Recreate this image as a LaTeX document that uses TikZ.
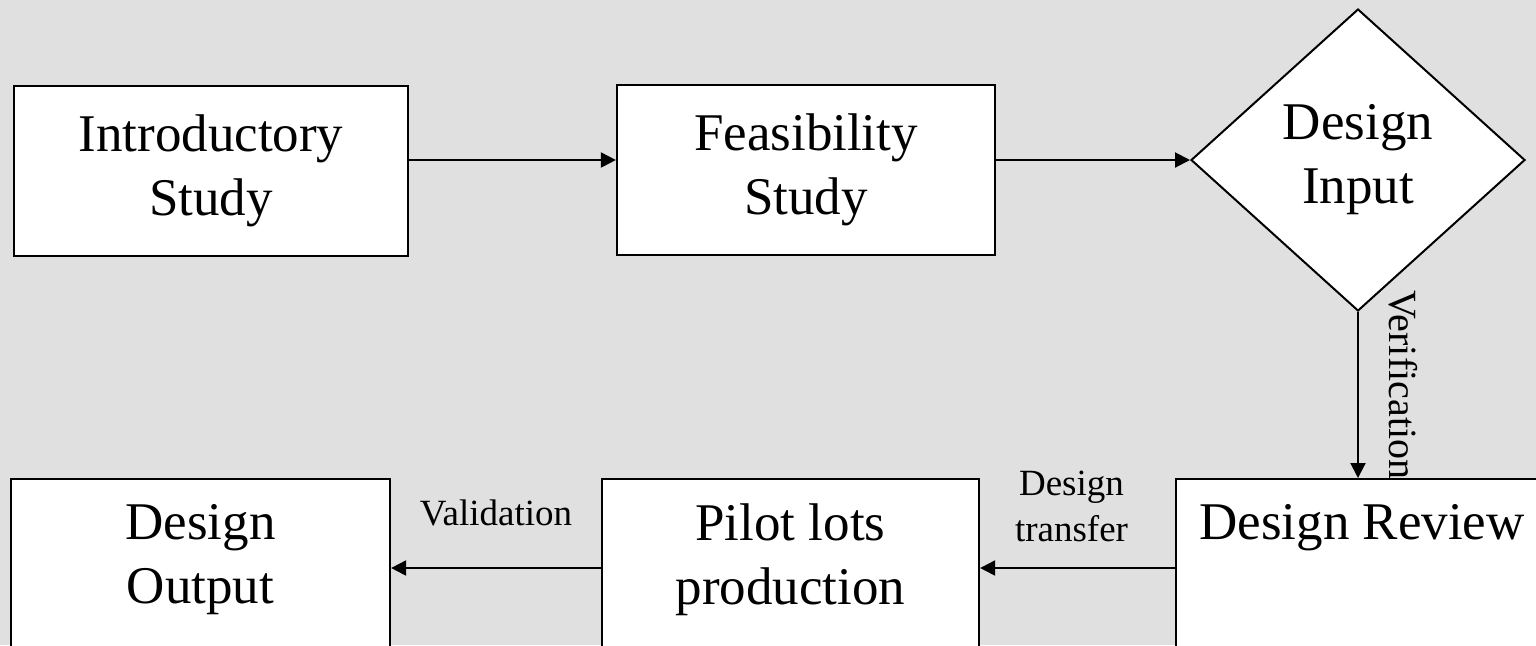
\documentclass[tikz,border=0pt]{standalone}
\usepackage{fontspec}
\setmainfont{Liberation Serif}
\usetikzlibrary{arrows.meta, shapes.geometric}
\definecolor{slide}{HTML}{E0E0E0}

\begin{document}
\begin{tikzpicture}[x = 0.5pt, y = -0.5pt]

\tikzset{
stage/.style = {rectangle, draw, fill = white, line width = 1.1pt, align = center, font = \fontsize{26.5}{32}\selectfont},
decision/.style = {diamond, draw, fill = white, line width = 1pt, align = center, inner sep = 0pt, minimum width = 167pt, minimum height = 151pt, font = \fontsize{26.5}{32}\selectfont},
lowstage/.style = {stage, anchor = north, inner ysep = 12.5pt, text depth = 100pt},
flow/.style = {-{Triangle[length = 7.5pt, width = 7.5pt]}, line width = 1pt},
note/.style = {inner sep = 0pt, align = center, font = \fontsize{18.5}{23}\selectfont},
	}

% Slide
\useasboundingbox (0, 0) rectangle (1536, 645);
\fill [slide] (0, 0) rectangle (1536, 645);

% Label under the review box
\node at (1389, 290) [note, font = \fontsize{20}{24}\selectfont, rotate = -90, anchor = base west] (verif) {Verification};

% Stages
\node at (211, 171) [stage, minimum width = 197pt, minimum height = 85pt] (intro) {Introductory\\Study};
\node at (806, 170) [stage, minimum width = 189pt, minimum height = 85pt] (feas) {Feasibility\\Study};
\node at (1358, 160) [decision] (input) {Design\\Input};
\node at (1362, 478) [lowstage, minimum width = 186pt] (review) {Design Review};
\node at (790.5, 478) [lowstage, minimum width = 188.5pt] (pilot) {Pilot lots\\production};
\node at (200.5, 478) [lowstage, minimum width = 189.5pt] (output) {Design\\Output};

\coordinate (lowrow) at (0, 568);

% Flows
\path [flow] (intro.east |- input.west) edge [] (feas.west |- input.west);
\path [flow] (feas.east |- input.west) edge [] (input.west);
\path [flow] (input.south) edge [] (input.south |- review.north);
\path [flow] (review.west |- lowrow) edge node [note, above = 12.5pt, xshift = -3pt] (transfer) {Design\\transfer} (pilot.east |- lowrow);
\path [flow] (pilot.west |- lowrow) edge node [note, above = 20.5pt] (valid) {Validation} (output.east |- lowrow);

\end{tikzpicture}
\end{document}
